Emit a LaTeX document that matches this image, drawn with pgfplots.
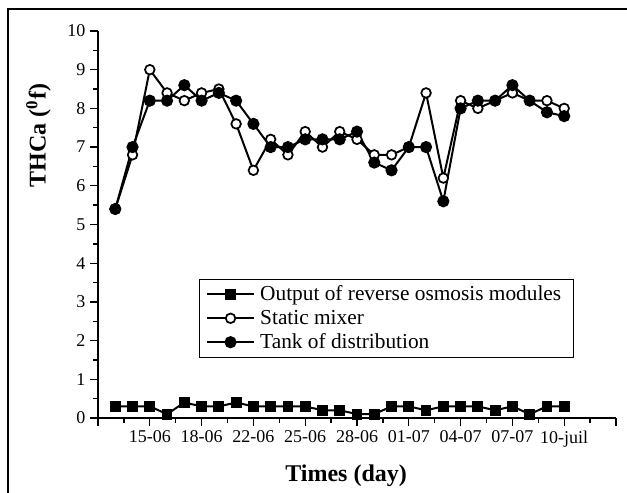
\documentclass[border=0pt]{standalone}
\usepackage{pgfplots}
\pgfplotsset{compat=1.18}
\usepackage{fontspec}
\setmainfont{Liberation Serif}
\begin{document}
\begin{tikzpicture}
\path[use as bounding box] (0,0) rectangle (470.25pt,369pt);
\draw[line width=1.2pt] (6pt,-5pt) -- (6pt,362.25pt) -- (480pt,362.25pt);
\begin{axis}[
  at={(73.5pt,55.5pt)}, anchor=south west,
  scale only axis, width=388.5pt, height=290.25pt,
  xmin=-1, xmax=29, ymin=0, ymax=10,
  axis x line*=bottom, axis y line*=left,
  axis line style={line width=1.2pt,black},
  xtick={-1,2,...,29},
  xticklabels={,15-06,18-06,22-06,25-06,28-06,01-07,04-07,07-07,10-juil,},
  minor xtick={0.5,3.5,...,27.5},
  ytick={0,1,...,10}, minor ytick={0.5,1.5,...,9.5},
  tick align=outside,
  major tick length=6pt, minor tick length=3.5pt,
  every tick/.style={black, line width=1pt},
  ticklabel style={font=\fontsize{13.5}{15}\selectfont},
  /pgf/number format/assume math mode=true,
  clip=false,
  xlabel={Times (day)},
  xlabel style={font=\fontsize{18}{20}\selectfont\bfseries, at={(ticklabel cs:0.479)}, anchor=north, yshift=-6.5pt},
  ylabel={THCa (\textsuperscript{0}f)},
  ylabel style={font=\fontsize{18}{20}\selectfont\bfseries, at={(axis description cs:-0.115,0.73)}, anchor=center, inner sep=0pt},
  legend style={at={(0.195,0.36)}, anchor=north west, draw=black, line width=0.8pt,
    font=\fontsize{16}{18}\selectfont, inner xsep=5pt, inner ysep=3pt, row sep=1.5pt,
    cells={anchor=west}, nodes={inner xsep=4pt}},
  legend image code/.code={\draw[#1, mark repeat=2, mark phase=2] plot coordinates {(0pt,0pt) (17.5pt,0pt) (35pt,0pt)};},
  every axis plot/.append style={line width=1.5pt, black},
]
\addplot[mark=square*, mark size=3.3pt] coordinates {
(0,0.3) (1,0.3) (2,0.3) (3,0.1) (4,0.4) (5,0.3) (6,0.3) (7,0.4) (8,0.3) (9,0.3)
(10,0.3) (11,0.3) (12,0.2) (13,0.2) (14,0.1) (15,0.1) (16,0.3) (17,0.3) (18,0.2) (19,0.3)
(20,0.3) (21,0.3) (22,0.2) (23,0.3) (24,0.1) (25,0.3) (26,0.3)};
\addlegendentry{Output of reverse osmosis modules}
\addplot[mark=*, mark size=3.6pt, mark options={fill=white, line width=1.3pt}] coordinates {
(0,5.4) (1,6.8) (2,9.0) (3,8.4) (4,8.2) (5,8.4) (6,8.5) (7,7.6) (8,6.4) (9,7.2)
(10,6.8) (11,7.4) (12,7.0) (13,7.4) (14,7.2) (15,6.8) (16,6.8) (17,7.0) (18,8.4) (19,6.2)
(20,8.2) (21,8.0) (22,8.2) (23,8.4) (24,8.2) (25,8.2) (26,8.0)};
\addlegendentry{Static mixer}
\addplot[mark=*, mark size=3.8pt, mark options={fill=black}] coordinates {
(0,5.4) (1,7.0) (2,8.2) (3,8.2) (4,8.6) (5,8.2) (6,8.4) (7,8.2) (8,7.6) (9,7.0)
(10,7.0) (11,7.2) (12,7.2) (13,7.2) (14,7.4) (15,6.6) (16,6.4) (17,7.0) (18,7.0) (19,5.6)
(20,8.0) (21,8.2) (22,8.2) (23,8.6) (24,8.2) (25,7.9) (26,7.8)};
\addlegendentry{Tank of distribution}
\end{axis}
\end{tikzpicture}
\end{document}
